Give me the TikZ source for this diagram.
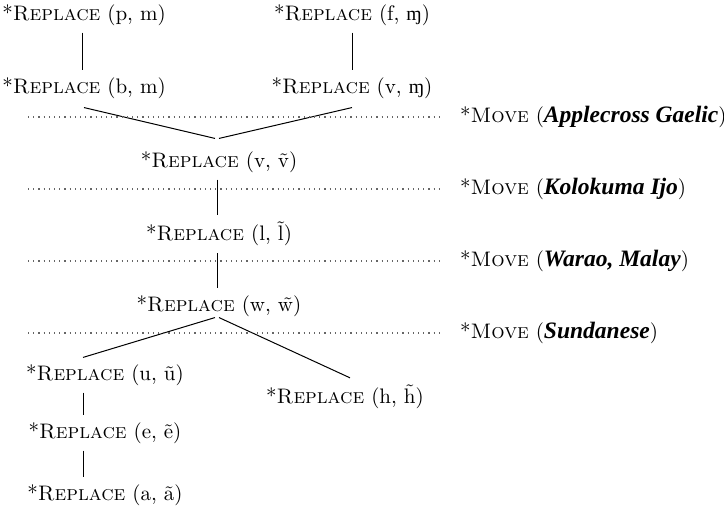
\documentclass[tikz,border=0pt]{standalone}
\usepackage{fontspec}
\newfontfamily\ipafont[Scale=MatchLowercase]{Liberation Serif}
\newfontfamily\lenguafont[Scale=1.12]{Liberation Serif}
\newcommand{\ipa}[1]{{\ipafont #1}}
\newcommand{\TildeAlta}[1]{\accent"02DC #1}
\newcommand{\OpReplace}[1]{*\textsc{Replace} (#1)}
\newcommand{\OpMove}[1]{*\textsc{Move} ({\lenguafont\bfseries\itshape #1})}

\begin{document}
\begin{tikzpicture}[x=0.5pt,y=-0.5pt,
    font=\fontsize{10.5}{12.6}\selectfont,
    rama/.style={line width=0.5pt},
    separador/.style={dotted,black!60,line width=0.6pt}]
    \useasboundingbox (0,0) rectangle (724,507);

    % rama superior
    \node (pm) at (84,15) {\OpReplace{p, m}};
    \node (fm) at (352,15) {\OpReplace{f, \ipa{ɱ}}};
    \node (bm) at (84,88) {\OpReplace{b, m}};
    \node (vm) at (352,88) {\OpReplace{v, \ipa{ɱ}}};
    \node (vv) at (219,162) {\OpReplace{v, \~{v}}};
    \node (ll) at (219,234) {\OpReplace{l, \TildeAlta{l}}};
    \node (ww) at (219,306) {\OpReplace{w, \~{w}}};

    % rama inferior
    \node (uu) at (105,375) {\OpReplace{u, \~{u}}};
    \node (hh) at (345,397) {\OpReplace{h, \TildeAlta{h}}};
    \node (ee) at (105,433) {\OpReplace{e, \~{e}}};
    \node (aa) at (105,495) {\OpReplace{a, \~{a}}};

    \draw[rama] ([xshift=-1pt]pm.south) -- ([xshift=-1pt]bm.north);
    \draw[rama] (fm.south) -- (vm.north);
    \draw[rama] ([yshift=-1pt]bm.south) -- ([xshift=-2pt,yshift=3pt]vv.north);
    \draw[rama] ([yshift=-1pt]vm.south) -- ([xshift=0pt,yshift=3pt]vv.north);
    \draw[rama] ([xshift=-1pt]vv.south) -- ([xshift=-1pt]ll.north);
    \draw[rama] ([xshift=-1pt]ll.south) -- ([xshift=-1pt]ww.north);
    \draw[rama] ([xshift=-2pt,yshift=3pt]ww.south) -- ([xshift=-11pt]uu.north);
    \draw[rama] ([xshift=0pt,yshift=3pt]ww.south) -- ([xshift=2.5pt]hh.north);
    \draw[rama] ([xshift=-11pt]uu.south) -- ([xshift=-11pt]ee.north);
    \draw[rama] ([xshift=-11pt]ee.south) -- ([xshift=-11pt]aa.north);

    % operaciones Move
    \foreach \y/\lengua [count=\i] in {117/{Applecross Gaelic},189/{Kolokuma Ijo},
        261/{Warao, Malay},333/{Sundanese}} {
      \node[anchor=west] (mv\i) at (453,\y) {\OpMove{\lengua}};
      \coordinate (sep\i) at (28,\y);
      \draw[separador] (sep\i) -- ([xshift=-6pt]mv\i.west);
    }
\end{tikzpicture}
\end{document}
